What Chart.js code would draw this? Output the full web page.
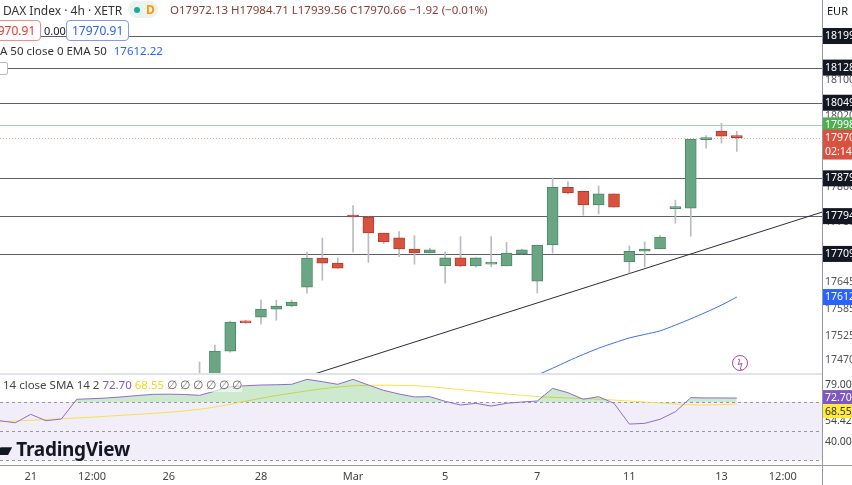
<!DOCTYPE html>
<html>
<head>
<meta charset="utf-8">
<script src="https://cdn.jsdelivr.net/npm/chart.js@4/dist/chart.umd.min.js"></script>
<style>
  body { margin: 0; width: 852px; height: 485px; overflow: hidden; background: #fff; font-family: "Noto Sans", sans-serif; position: relative; }
  #main { position: absolute; left: 0; top: 0; width: 852px; height: 374px; }
  #rsi { position: absolute; left: 0; top: 374px; width: 852px; height: 111px; }
  .sep { position: absolute; left: 0; top: 373px; width: 822px; height: 2px; background: #e0e3eb; }
  .t { position: absolute; white-space: nowrap; font-size: 12px; color: #131722; }
  .box { position: absolute; font-size: 12px; border-radius: 4px; padding: 1px 5px; background: #fff; }
</style>
</head>
<body>
<div id="main"><canvas id="mainChart"></canvas></div>
<div id="rsi"><canvas id="rsiChart"></canvas></div>
<div class="sep"></div>

<div class="t" style="left:3px;top:2px;font-size:12px;color:#333">DAX Index · 4h · XETR</div>
<div class="t" style="left:128px;top:1px;width:30px;height:17px;border-radius:9px;background:#e8f4ef"></div>
<div class="t" style="left:134px;top:7px;width:6px;height:6px;border-radius:3px;background:#26a69a"></div>
<div class="t" style="left:146px;top:1px;color:#ff9800;font-size:12px;font-weight:bold">D</div>
<div class="t" style="left:170px;top:2px;font-size:11.5px;color:#8d3b36">O17972.13 H17984.71 L17939.56 C17970.66 −1.92 (−0.01%)</div>
<div class="t" style="left:827px;top:3px;font-size:11px">EUR</div>
<div class="box" style="left:-22px;top:20px;border:1px solid #f28b82;color:#e53935">17970.91</div>
<div class="t" style="left:44px;top:23px;font-size:11px">0.00</div>
<div class="box" style="left:66px;top:20px;border:1px solid #7b9cf5;color:#2962ff">17970.91</div>
<div class="t" style="left:0;top:43px;font-size:11.5px;color:#333">A 50 close 0 EMA 50 <span style="color:#2962ff;margin-left:4px">17612.22</span></div>
<div class="t" style="left:-4px;top:62px;width:10px;height:11px;border:1px solid #bbb;background:#fff;border-radius:2px"></div>
<div class="t" style="left:3px;top:377px;font-size:11.5px;color:#444;background:rgba(255,255,255,0.6)">14 close SMA 14 2 <span style="color:#7e57c2">72.70</span> <span style="color:#f5d327">68.55</span> <span style="color:#666">∅ ∅ ∅ ∅ ∅ ∅</span></div>
<div class="t" style="left:-3px;top:436px;font-size:19px;font-weight:bold;letter-spacing:-0.3px">▰ TradingView</div>
<div class="t" style="left:732px;top:355px;width:14px;height:14px;border:1.5px solid #ab47bc;border-radius:9px;color:#ab47bc;font-size:10px;line-height:14px;text-align:center">ϟ</div>

<script>
// candles, index positions on a 4h grid
const firstIdx = 13;
const opens  = [17420, 17425, 17490.6, 17556, 17567, 17585, 17592, 17634.5, 17699.7, 17688.5, 17794, 17792, 17756, 17745, 17720, 17711, 17682, 17700, 17682, 17686, 17682, 17709, 17648, 17729, 17859, 17850, 17819, 17844, 17691, 17715, 17720, 17811, 17812, 17966, 17985, 17972.13];
const highs  = [17466, 17504, 17558, 17560, 17605, 17605, 17605, 17713, 17744.7, 17700, 17818, 17792, 17756, 17759, 17750, 17722, 17714, 17748, 17700, 17748, 17735, 17720, 17729, 17880, 17871, 17850, 17862, 17844, 17727, 17736, 17750, 17830, 17967, 17975, 18003, 17984.71];
const lows   = [17400, 17410, 17488, 17553, 17551, 17560, 17590, 17621, 17650, 17676, 17713, 17690, 17732, 17703, 17686, 17711, 17643, 17680, 17679, 17680, 17682, 17709, 17621, 17711, 17844, 17796, 17799, 17814, 17666, 17680, 17720, 17778, 17749, 17947, 17958, 17939.56];
const closes = [17430, 17490.6, 17555.8, 17554, 17585, 17592, 17601, 17699.7, 17688.5, 17677, 17792, 17756, 17736, 17720, 17711, 17718, 17700, 17682, 17700, 17688, 17711, 17718, 17729, 17859, 17846, 17819, 17844, 17814, 17715, 17720, 17747, 17813, 17967, 17968, 17974, 17970.66];

const emaIdx = [34, 35, 36, 37, 38, 39, 40, 41, 42, 43, 44, 45, 46, 47, 48];
const emaVals = [17425, 17437, 17452, 17468, 17483, 17497, 17509, 17520, 17528, 17536, 17549, 17563, 17578, 17594, 17612];

const trendIdx = [20.3, 53.55];
const trendVals = [17437, 17803];

const levels = [18199, 18128, 18049, 17879, 17794, 17709];
const greenLevel = 17998;
const lastPrice = 17970.66;
const emaLast = 17612;
const priceTicks = [18100, 18020, 17860, 17780, 17645, 17585, 17525, 17470];

// RSI pane
const rsiVals = [57.1, 55.7, 61.5, 57.1, 58.3, 71.9, 72.3, 72.8, 73.6, 74.5, 75.3, 75.4, 75.2, 74.6, 77.5, 80.6, 81.2, 81.7, 81.9, 82.2, 85.6, 84, 82.2, 85.6, 81.7, 78, 75.5, 73.5, 73.7, 70.5, 67.9, 69.1, 67.2, 69.1, 70, 70.7, 79.4, 76.4, 71.9, 73.7, 69.1, 54.8, 55.3, 58.1, 63.3, 73, 72.8, 72.8, 72.7];
const smaIdx = [0, 6.5, 13, 18.2, 22.8, 27.4, 31.3, 35.2, 39.1, 42.3, 45.6, 48];
const smaVals = [56.4, 59.9, 65, 74.8, 81, 81, 77.1, 73.7, 71.9, 69.8, 67.9, 68.6];
const rsiTicks = [79.0, 54.42, 40.0];

const timeLabels = ['21', '12:00', '26', '28', 'Mar', '5', '7', '11', '13', '12:00'];
const timeIdx = [2, 6, 11, 17, 23, 29, 35, 41, 47, 51];

const X_MIN = 0, X_MAX = 53.55;
const UP = '#6aa684', UP_B = '#4b8a66', DN = '#d9523f', DN_B = '#b23c2c';
const FONT = '"Noto Sans", sans-serif';

const xs = opens.map((_, i) => firstIdx + i);
const isUp = opens.map((o, i) => closes[i] >= o);

function box(ctx, y, text, bg, fg, h) {
  h = h || 16;
  ctx.fillStyle = bg;
  ctx.fillRect(823, y - 8, 40, h);
  ctx.fillStyle = fg;
  ctx.font = '10.5px ' + FONT;
  ctx.textBaseline = 'middle';
  ctx.fillText(text, 825, y);
}

const mainOverlay = {
  id: 'mainOverlay',
  beforeDatasetsDraw(chart) {
    const ctx = chart.ctx, y = chart.scales.y, a = chart.chartArea;
    ctx.save();
    ctx.lineWidth = 1;
    ctx.strokeStyle = '#5d606b';
    levels.forEach(v => {
      const py = Math.round(y.getPixelForValue(v)) + 0.5;
      ctx.beginPath(); ctx.moveTo(0, py); ctx.lineTo(a.right, py); ctx.stroke();
    });
    ctx.strokeStyle = '#a5d6a7';
    let py = Math.round(y.getPixelForValue(greenLevel)) + 0.5;
    ctx.beginPath(); ctx.moveTo(0, py); ctx.lineTo(a.right, py); ctx.stroke();
    ctx.strokeStyle = '#f4a39b';
    ctx.setLineDash([1, 2]);
    py = Math.round(y.getPixelForValue(lastPrice)) + 0.5;
    ctx.beginPath(); ctx.moveTo(0, py); ctx.lineTo(a.right, py); ctx.stroke();
    ctx.restore();
  },
  afterDraw(chart) {
    const ctx = chart.ctx, y = chart.scales.y, a = chart.chartArea;
    ctx.save();
    ctx.fillStyle = '#fff';
    ctx.fillRect(a.right, 0, 40, chart.height);
    ctx.strokeStyle = '#9598a1';
    ctx.beginPath(); ctx.moveTo(a.right + 0.5, 0); ctx.lineTo(a.right + 0.5, chart.height); ctx.stroke();
    ctx.font = '10.5px ' + FONT;
    ctx.textBaseline = 'middle';
    ctx.fillStyle = '#555';
    priceTicks.forEach(v => ctx.fillText(String(v), 825, y.getPixelForValue(v)));
    levels.forEach(v => box(ctx, y.getPixelForValue(v), String(v), '#131722', '#fff'));
    box(ctx, y.getPixelForValue(greenLevel), String(greenLevel), '#4caf50', '#fff');
    const ly = y.getPixelForValue(lastPrice);
    ctx.fillStyle = DN; ctx.fillRect(823, ly - 8, 40, 30);
    ctx.fillStyle = '#fff';
    ctx.fillText(String(Math.floor(lastPrice)), 825, ly);
    ctx.fillText('02:14', 825, ly + 14);
    box(ctx, y.getPixelForValue(emaLast), String(emaLast), '#2962ff', '#fff');
    ctx.restore();
  }
};

new Chart(document.getElementById('mainChart'), {
  type: 'bar',
  data: {
    datasets: [
      {
        label: 'trend', type: 'line', order: 3,
        data: trendIdx.map((x, i) => ({ x, y: trendVals[i] })),
        borderColor: '#2a2e39', borderWidth: 1, pointRadius: 0
      },
      {
        label: 'EMA 50', type: 'line', order: 3,
        data: emaIdx.map((x, i) => ({ x, y: emaVals[i] })),
        borderColor: '#3d6df2', borderWidth: 1, pointRadius: 0, tension: 0.3
      },
      {
        label: 'wick', order: 2, grouped: false,
        data: xs.map((x, i) => ({ x, y: [lows[i], highs[i]] })),
        backgroundColor: '#b8bbc2', barThickness: 1
      },
      {
        label: 'body', order: 1, grouped: false,
        data: xs.map((x, i) => ({ x, y: [opens[i], closes[i]] })),
        backgroundColor: isUp.map(u => u ? UP : DN),
        borderColor: isUp.map(u => u ? UP_B : DN_B),
        borderWidth: 1, borderSkipped: false, barThickness: 11, minBarLength: 2
      }
    ]
  },
  options: {
    responsive: true, maintainAspectRatio: false, animation: false,
    layout: { padding: { left: 0, right: 30, top: 0, bottom: 0 } },
    plugins: { legend: { display: false }, tooltip: { enabled: false } },
    scales: {
      x: { type: 'linear', min: X_MIN, max: X_MAX, display: false, offset: false },
      y: { min: 17439, max: 18280, display: false }
    }
  },
  plugins: [mainOverlay]
});

const rsiOverlay = {
  id: 'rsiOverlay',
  beforeDatasetsDraw(chart) {
    const ctx = chart.ctx, y = chart.scales.y, a = chart.chartArea;
    ctx.save();
    const y70 = y.getPixelForValue(70), y30 = y.getPixelForValue(30);
    ctx.fillStyle = 'rgba(126,87,194,0.1)';
    ctx.fillRect(0, y70, a.right, y30 - y70);
    ctx.strokeStyle = '#9598a1';
    ctx.setLineDash([3, 3]);
    [70, 50, 30].forEach(v => {
      const py = Math.round(y.getPixelForValue(v)) + 0.5;
      ctx.beginPath(); ctx.moveTo(0, py); ctx.lineTo(a.right, py); ctx.stroke();
    });
    ctx.restore();
  },
  afterDraw(chart) {
    const ctx = chart.ctx, y = chart.scales.y, x = chart.scales.x, a = chart.chartArea;
    ctx.save();
    ctx.fillStyle = '#fff';
    ctx.fillRect(a.right, 0, 40, chart.height);
    ctx.fillRect(0, a.bottom, a.right, chart.height - a.bottom);
    ctx.strokeStyle = '#9598a1';
    ctx.beginPath();
    ctx.moveTo(a.right + 0.5, 0); ctx.lineTo(a.right + 0.5, chart.height);
    ctx.moveTo(0, a.bottom + 0.5); ctx.lineTo(chart.width, a.bottom + 0.5);
    ctx.stroke();
    ctx.font = '10.5px ' + FONT;
    ctx.textBaseline = 'middle';
    ctx.fillStyle = '#444';
    rsiTicks.forEach(v => ctx.fillText(v.toFixed(2), 825, y.getPixelForValue(v) - 4));
    box(ctx, y.getPixelForValue(72.7), '72.70', '#7e57c2', '#fff', 14);
    box(ctx, y.getPixelForValue(72.7) + 14, '68.55', '#ffeb3b', '#333', 14);
    ctx.fillStyle = '#444';
    ctx.font = '11px ' + FONT;
    ctx.textAlign = 'center';
    timeLabels.forEach((t, i) => ctx.fillText(t, x.getPixelForValue(timeIdx[i]), a.bottom + 12));
    ctx.restore();
  }
};

new Chart(document.getElementById('rsiChart'), {
  type: 'line',
  data: {
    datasets: [
      {
        label: 'RSI',
        data: rsiVals.map((v, i) => ({ x: i, y: v })),
        borderColor: '#8e6ad6', borderWidth: 1, pointRadius: 0,
        fill: { target: { value: 70 }, above: 'rgba(76,175,80,0.28)', below: 'rgba(0,0,0,0)' }
      },
      {
        label: 'SMA',
        data: smaIdx.map((x, i) => ({ x, y: smaVals[i] })),
        borderColor: '#f7e04b', borderWidth: 1, pointRadius: 0, tension: 0.3
      }
    ]
  },
  options: {
    responsive: true, maintainAspectRatio: false, animation: false,
    layout: { padding: { left: 0, right: 30, top: 0, bottom: 20 } },
    plugins: { legend: { display: false }, tooltip: { enabled: false } },
    scales: {
      x: { type: 'linear', min: X_MIN, max: X_MAX, display: false },
      y: { min: 26.6, max: 89.3, display: false }
    }
  },
  plugins: [rsiOverlay]
});
</script>
</body>
</html>
